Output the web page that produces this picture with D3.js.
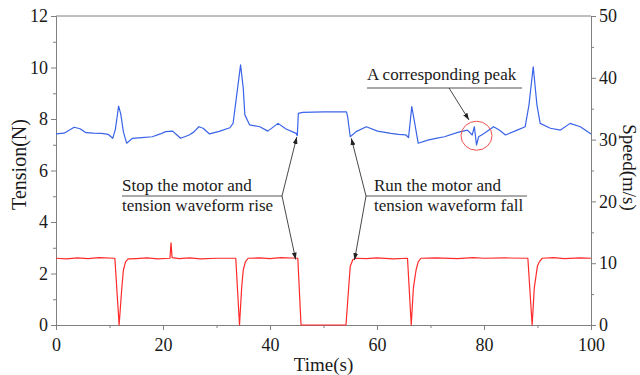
<!DOCTYPE html>
<html>
<head>
<meta charset="utf-8">
<script src="https://cdn.jsdelivr.net/npm/d3@7"></script>
<style>
  html, body { margin: 0; padding: 0; background: #fff; }
  svg { display: block; font-family: "Liberation Serif", "Times New Roman", serif; }
  svg text { font-family: "Liberation Serif", "Times New Roman", serif; }
</style>
</head>
<body>
<svg id="chart" width="640" height="375"></svg>
<script>
// Tension (left axis, N) sampled over time (s)
const tensionTime = [0, 1.5, 3.4, 4.5, 5.6, 7, 8.5, 9.8, 10.6, 11.1, 11.7, 12.1, 12.6, 13.2, 14.3, 16, 18,
  19.5, 20.5, 21.8, 22.5, 23.3, 24.9, 25.8, 26.7, 27.5, 28.7, 30.5, 32.5, 33.1, 33.7, 34.5, 35.0, 35.3,
  36.2, 38.1, 39.6, 41.5, 43.0, 44.9, 45.1, 45.3, 46.1, 50, 54.3, 54.5, 55.0, 56.1, 58.0, 60.1, 62.6,
  64, 65.4, 65.9, 66.5, 67.0, 67.7, 69.5, 71, 72.6, 75.1, 76.9, 77.8, 78.2, 78.6, 79.0, 80.0, 81.8, 83,
  84.0, 86.2, 87.7, 88.4, 89.2, 89.9, 90.5, 92.4, 94.3, 96.1, 98.0, 100];
const tensionValue = [7.42, 7.45, 7.68, 7.62, 7.47, 7.45, 7.44, 7.40, 7.25, 7.60, 8.50, 8.20, 7.50, 7.06,
  7.25, 7.28, 7.31, 7.42, 7.51, 7.53, 7.40, 7.25, 7.38, 7.50, 7.70, 7.64, 7.42, 7.52, 7.66, 7.83, 8.80,
  10.10, 9.20, 8.16, 7.77, 7.70, 7.53, 7.83, 7.61, 7.44, 7.35, 8.22, 8.26, 8.28, 8.28, 8.10, 7.31, 7.51,
  7.70, 7.53, 7.44, 7.40, 7.38, 7.28, 8.48, 7.90, 7.06, 7.18, 7.25, 7.31, 7.48, 7.57, 7.38, 7.70, 6.99,
  7.31, 7.44, 7.70, 7.55, 7.38, 7.57, 7.70, 8.54, 10.03, 8.54, 7.83, 7.64, 7.57, 7.83, 7.70, 7.42];

// Motor speed (right axis, m/s) sampled over time (s)
const speedTime = [0, 2, 4, 6, 8, 11.0, 11.8, 12.3, 12.6, 13.0, 13.5, 15, 17, 19, 21.3, 21.5, 21.7, 23,
  25, 27, 30, 33.6, 34.3, 34.7, 35.0, 35.4, 35.9, 38, 40, 42, 45.2, 45.8, 54.2, 54.7, 55.0, 55.5, 56, 58,
  60, 63, 65.7, 66.4, 66.8, 67.3, 67.7, 68.2, 71, 75, 78, 80, 84, 88.2, 89.0, 89.4, 90.0, 90.4, 90.9, 93,
  95, 98, 100];
const speedValue = [10.8, 10.7, 10.85, 10.75, 10.9, 10.8, 0, 6.0, 8.9, 10.2, 10.7, 10.75, 10.85, 10.7,
  10.8, 13.3, 10.9, 10.75, 10.85, 10.7, 10.8, 10.8, 0, 6.0, 8.9, 10.2, 10.8, 10.85, 10.75, 10.9, 10.8, 0,
  0, 6.0, 9.5, 10.6, 10.8, 10.75, 10.85, 10.7, 10.8, 0, 6.0, 8.9, 10.2, 10.8, 10.85, 10.75, 10.9, 10.8,
  10.85, 10.8, 0, 6.0, 9.6, 10.3, 10.8, 10.9, 10.75, 10.85, 10.8];

// Axis ticks
const timeTicks = d3.range(0, 101, 10);
const timeLabels = [0, 20, 40, 60, 80, 100];
const tensionTicks = d3.range(0, 13, 1);
const tensionLabels = [0, 2, 4, 6, 8, 10, 12];
const speedTicks = d3.range(0, 51, 5);
const speedLabels = [0, 10, 20, 30, 40, 50];

const svg = d3.select("#chart");
const plotL = 56, plotR = 591, plotT = 16, plotB = 325;
const serif = "Liberation Serif, Times New Roman, serif";

const x = d3.scaleLinear().domain([0, 100]).range([plotL, plotR]);
const yT = d3.scaleLinear().domain([0, 12]).range([plotB, plotT]);
const yS = d3.scaleLinear().domain([0, 50]).range([plotB, plotT]);

const axisColor = "#808080";
const textColor = "#1a1a1a";

const defs = svg.append("defs");
defs.append("clipPath").attr("id", "plot-clip")
  .append("rect").attr("x", plotL).attr("y", plotT - 2).attr("width", plotR - plotL).attr("height", plotB - plotT + 3);

// frame top line
svg.append("line").attr("x1", plotL).attr("x2", plotR).attr("y1", plotT).attr("y2", plotT)
  .attr("stroke", axisColor).attr("stroke-width", 1);

// shared axis styling; unlabelled ticks are drawn shorter
function styleAxis(g, labels, dir) {
  g.attr("font-family", serif);
  g.select(".domain").attr("stroke", axisColor).attr("stroke-width", 1);
  g.selectAll(".tick line").attr("stroke", axisColor).attr("stroke-width", 1);
  g.selectAll(".tick").filter(d => !labels.includes(d)).select("line")
    .attr(dir === "x" ? "x2" : "y2", null)
    .attr(dir === "x" ? "y2" : "x2", dir === "x" ? 3 : (dir === "l" ? -3 : 3));
  g.selectAll(".tick text").attr("fill", textColor).attr("font-size", 18).attr("font-family", serif);
}

// bottom axis
const gx = svg.append("g").attr("transform", `translate(0,${plotB})`)
  .call(d3.axisBottom(x).tickValues(timeTicks).tickSize(5).tickPadding(8)
    .tickFormat(d => timeLabels.includes(d) ? d : ""));
styleAxis(gx, timeLabels, "x");

// left axis
const gl = svg.append("g").attr("transform", `translate(${plotL},0)`)
  .call(d3.axisLeft(yT).tickValues(tensionTicks).tickSize(5).tickPadding(3)
    .tickFormat(d => tensionLabels.includes(d) ? d : ""));
styleAxis(gl, tensionLabels, "l");

// right axis
const gr = svg.append("g").attr("transform", `translate(${plotR},0)`)
  .call(d3.axisRight(yS).tickValues(speedTicks).tickSize(5).tickPadding(3)
    .tickFormat(d => speedLabels.includes(d) ? d : ""));
styleAxis(gr, speedLabels, "r");

// axis titles
svg.append("text").attr("x", (plotL + plotR) / 2).attr("y", 371).attr("text-anchor", "middle")
  .attr("font-family", serif).attr("font-size", 19).attr("fill", textColor).text("Time(s)");
svg.append("text").attr("transform", `translate(26,${(plotT + plotB) / 2 - 6}) rotate(-90)`)
  .attr("text-anchor", "middle").attr("font-family", serif).attr("font-size", 20)
  .attr("fill", textColor).text("Tension(N)");
svg.append("text").attr("transform", `translate(623,${(plotT + plotB) / 2 - 3}) rotate(90)`)
  .attr("text-anchor", "middle").attr("font-family", serif).attr("font-size", 19)
  .attr("fill", textColor).text("Speed(m/s)");

// series
const plot = svg.append("g").attr("clip-path", "url(#plot-clip)");
const tensionLine = d3.line().x((d, i) => x(tensionTime[i])).y(d => yT(d));
const speedLine = d3.line().x((d, i) => x(speedTime[i])).y(d => yS(d));

plot.append("path").datum(speedValue).attr("d", speedLine)
  .attr("fill", "none").attr("stroke", "#ff2a2a").attr("stroke-width", 1.2).attr("stroke-linejoin", "round");
plot.append("path").datum(tensionValue).attr("d", tensionLine)
  .attr("fill", "none").attr("stroke", "#3a64e8").attr("stroke-width", 1.2).attr("stroke-linejoin", "round");

// annotations
defs.append("marker").attr("id", "arrow").attr("viewBox", "0 0 10 10").attr("refX", 10).attr("refY", 5)
  .attr("markerWidth", 7).attr("markerHeight", 7).attr("orient", "auto")
  .attr("markerUnits", "userSpaceOnUse")
  .append("path").attr("d", "M0,1.5 L10,5 L0,8.5 Z").attr("fill", "#222");

const annColor = "#333";
function leader(x1, y1, x2, y2) {
  svg.append("line").attr("x1", x1).attr("y1", y1).attr("x2", x2).attr("y2", y2)
    .attr("stroke", annColor).attr("stroke-width", 0.9).attr("marker-end", "url(#arrow)");
}
function underline(x1, x2, y) {
  svg.append("line").attr("x1", x1).attr("x2", x2).attr("y1", y).attr("y2", y)
    .attr("stroke", "#555").attr("stroke-width", 1);
}
function label(xp, yp, str) {
  svg.append("text").attr("x", xp).attr("y", yp).attr("font-family", serif).attr("font-size", 17)
    .attr("fill", textColor).text(str);
}

// stop the motor
label(122, 191, "Stop the motor and");
label(122, 211, "tension waveform rise");
underline(122, 282, 196);
leader(282, 196, x(45.0), yT(7.3));
leader(282, 196, x(44.8), yS(10.6));

// run the motor
label(374, 191, "Run the motor and");
label(374, 211, "tension waveform fall");
underline(366, 527, 196);
leader(366, 196, x(55.2), yT(7.25));
leader(366, 196, x(55.8), yS(10.5));

// corresponding peak
label(367, 80, "A corresponding peak");
underline(367, 522, 88);
leader(449, 88, 469, 120);
svg.append("ellipse").attr("cx", x(78.6)).attr("cy", yT(7.35)).attr("rx", 15.5).attr("ry", 14.5)
  .attr("fill", "none").attr("stroke", "#f05050").attr("stroke-width", 1);
</script>
</body>
</html>
